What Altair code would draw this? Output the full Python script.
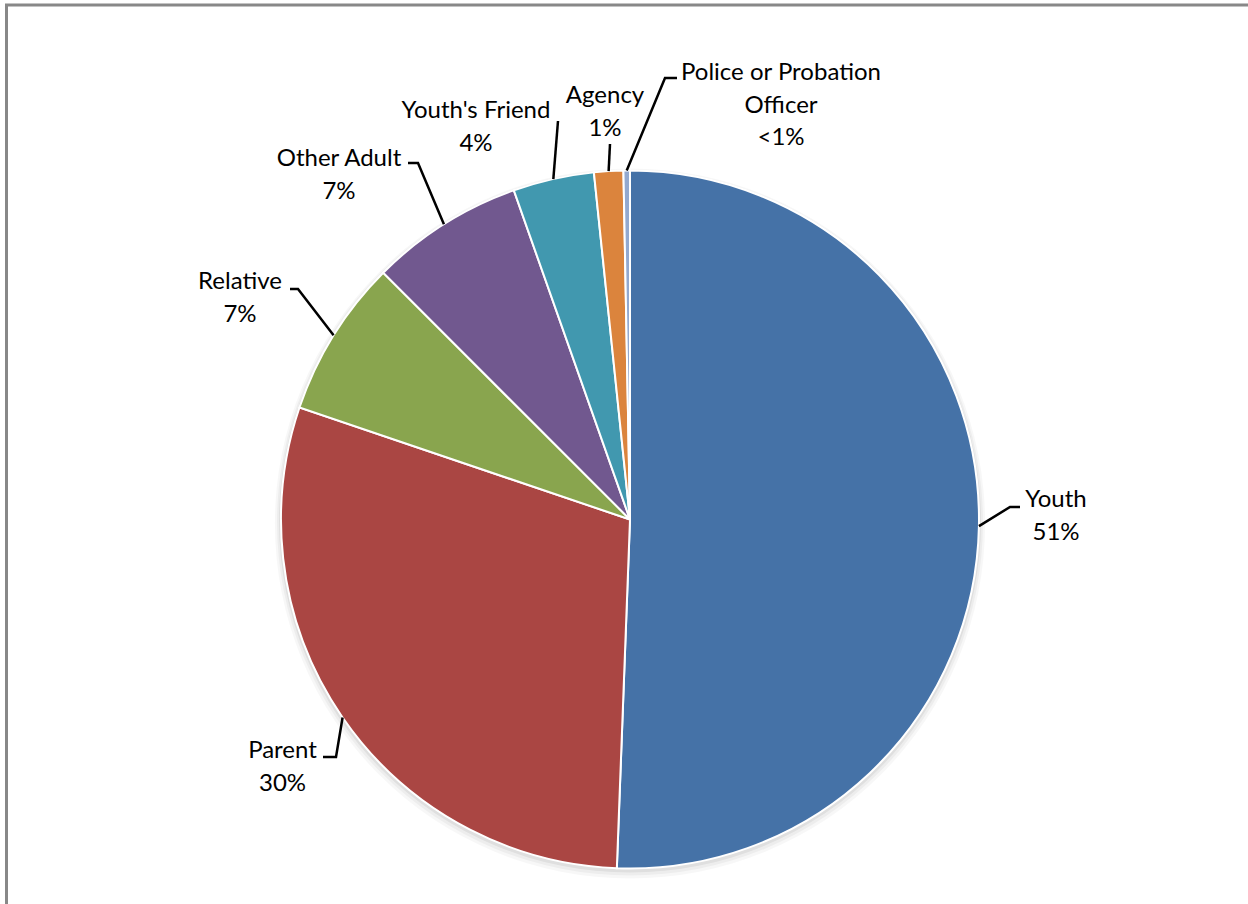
import altair as alt
import pandas as pd
import numpy as np

# ---- data ----
categories = ["Youth", "Parent", "Relative", "Other Adult", "Youth's Friend", "Agency",
              "Police or Probation Officer"]
shares = [50.6, 29.6, 7.3, 7.1, 3.75, 1.35, 0.3]
name_text = ["Youth", "Parent", "Relative", "Other Adult", "Youth's Friend", "Agency",
             "Police or Probation\nOfficer"]
pct_labels = ["51%", "30%", "7%", "7%", "4%", "1%", "<1%"]
colors = ["#4572A7", "#AA4643", "#89A54E", "#71588F", "#4198AF", "#DB843D", "#93A9CF"]

# ---- layout (pixels) ----
CX, CY, R = 630, 519.5, 349
label_pos = [(1056, 507), (282.5, 758), (240, 289), (339, 166), (476, 118), (605, 103), (781, 80)]
elbows = [[(1010, 507), (1020, 507)], [(336, 757), (323, 757)], [(298, 289), (290, 289)],
          [(418, 163), (408, 163)], [(558, 121)], [(610, 144)], [(665, 78), (677, 78)]]
FONT = "Lato"

pie = pd.DataFrame({"category": categories, "share": shares, "idx": range(len(categories))})

# leader lines: start at slice edge (mid-angle computed from shares)
total = sum(shares)
cum = np.cumsum([0] + shares)
rows = []
for i, c in enumerate(categories):
    mid = (cum[i] + cum[i + 1]) / 2 / total * 2 * np.pi
    pts = [(CX + R * np.sin(mid), CY - R * np.cos(mid))] + elbows[i]
    for j, (px, py) in enumerate(pts):
        rows.append({"category": c, "seq": j, "x": px, "y": py})
lines = pd.DataFrame(rows)

labels = pd.DataFrame({
    "category": categories,
    "text": [n + "\n" + p for n, p in zip(name_text, pct_labels)],
    "x": [p[0] for p in label_pos],
    "y": [p[1] for p in label_pos],
})

one = pd.DataFrame({"k": [0]})

shadows = [
    alt.Chart(one).mark_arc(color="#000000", opacity=op, radius=R + dr, theta=0, theta2=2 * np.pi)
    .encode(x=alt.value(CX), y=alt.value(CY + dy))
    for dr, dy, op in [(6, 4, 0.03), (4, 3, 0.04), (2, 2, 0.06)]
]

arcs = alt.Chart(pie).mark_arc(radius=R, stroke="white", strokeWidth=2).encode(
    theta=alt.Theta("share:Q", stack=True),
    order=alt.Order("idx:Q"),
    color=alt.Color("category:N", scale=alt.Scale(domain=categories, range=colors), legend=None),
    x=alt.value(CX),
    y=alt.value(CY),
)

leader = alt.Chart(lines).mark_line(color="black", strokeWidth=2.5).encode(
    x=alt.X("x:Q", scale=None),
    y=alt.Y("y:Q", scale=None),
    detail="category:N",
    order="seq:Q",
)

text = alt.Chart(labels).mark_text(
    font=FONT, fontSize=24, color="black", align="center", baseline="alphabetic",
    lineBreak="\n", lineHeight=32.5,
).encode(
    x=alt.X("x:Q", scale=None),
    y=alt.Y("y:Q", scale=None),
    text="text:N",
)

border_top = alt.Chart(one).mark_rule(color="#888888", strokeWidth=3).encode(
    x=alt.value(5), x2=alt.value(1260), y=alt.value(5))
border_left = alt.Chart(one).mark_rule(color="#888888", strokeWidth=3).encode(
    x=alt.value(6.5), y=alt.value(4), y2=alt.value(920))

chart = alt.layer(*shadows, arcs, leader, text, border_top, border_left).properties(
    width=1248, height=904, padding=0, autosize=alt.AutoSizeParams(type="none"),
    background="white",
).configure_view(stroke=None)

chart.save("out.html", embed_options={"renderer": "svg", "actions": False})
